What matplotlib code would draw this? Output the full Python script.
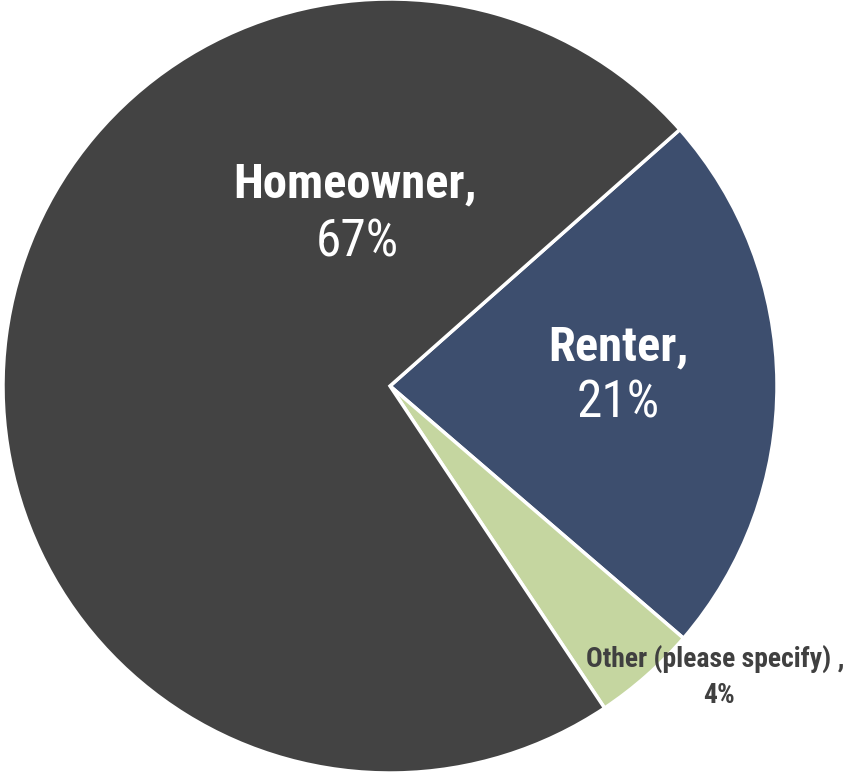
import matplotlib.pyplot as plt

# data
categories = ["Renter", "Other (please specify)", "Homeowner"]
values = [21, 4, 67]
pct_labels = ["21%", "4%", "67%"]
colors = ["#3d4e6e", "#c5d6a0", "#434343"]

plt.rcParams["font.family"] = ["Roboto Condensed", "DejaVu Sans"]

fig = plt.figure(figsize=(8.5, 7.75), dpi=100)
ax = fig.add_axes([3 / 850, 2 / 775, 774 / 850, 774 / 775])

wedges, _ = ax.pie(values, colors=colors, startangle=41.5, counterclock=False,
                   wedgeprops={"edgecolor": "white", "linewidth": 2.5})
ax.set_xlim(-1, 1)
ax.set_ylim(-1, 1)
ax.set_aspect("equal")
ax.axis("off")

# label placement (name line, percent line, font size, colour)
label_pos = {
  "Renter": ((0.59, 0.10), (0.59, -0.045), 35, "white"),
  "Homeowner": ((-0.09, 0.52), (-0.085, 0.37), 35, "white"),
  "Other (please specify)": ((0.84, -0.705), (0.85, -0.80), 20, "#404040"),
}

for name, pct in zip(categories, pct_labels):
  (x1, y1), (x2, y2), size, col = label_pos[name]
  title = name + " ," if name.startswith("Other") else name + ","
  ax.text(x1, y1, title, ha="center", va="center", fontsize=size,
          fontweight="bold", color=col)
  if size < 30:
    ax.text(x2, y2, pct, ha="center", va="center", fontsize=size,
            fontweight="bold", color=col)
  else:
    ax.text(x2, y2, pct, ha="center", va="center", fontsize=size + 2,
            color=col)

fig.savefig("out.png", dpi=100)
